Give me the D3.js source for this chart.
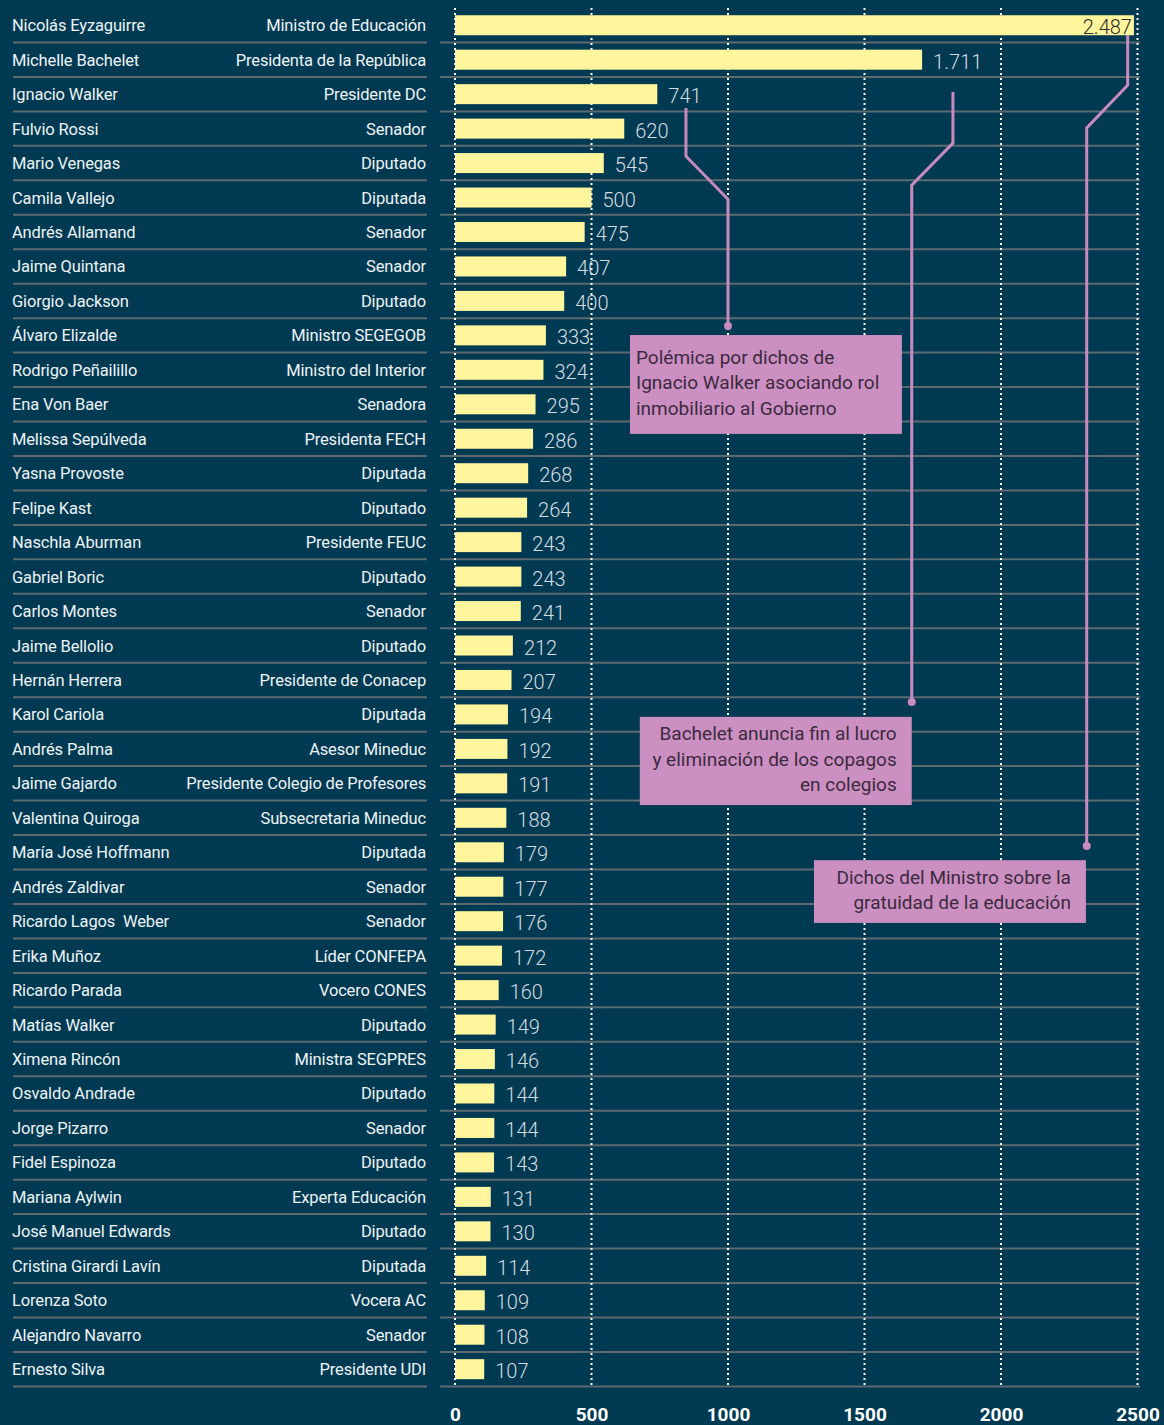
<!DOCTYPE html>
<html>
<head>
<meta charset="utf-8">
<script src="https://cdn.jsdelivr.net/npm/d3@7"></script>
<style>
  body { margin: 0; background: #003a52; }
  svg { display: block; }
  text { white-space: pre; }
</style>
</head>
<body>
<div id="chart"></div>
<script>
var names = ["Nicolás Eyzaguirre", "Michelle Bachelet", "Ignacio Walker", "Fulvio Rossi", "Mario Venegas",
  "Camila Vallejo", "Andrés Allamand", "Jaime Quintana", "Giorgio Jackson", "Álvaro Elizalde",
  "Rodrigo Peñailillo", "Ena Von Baer", "Melissa Sepúlveda", "Yasna Provoste", "Felipe Kast",
  "Naschla Aburman", "Gabriel Boric", "Carlos Montes", "Jaime Bellolio", "Hernán Herrera",
  "Karol Cariola", "Andrés Palma", "Jaime Gajardo", "Valentina Quiroga", "María José Hoffmann",
  "Andrés Zaldivar", "Ricardo Lagos  Weber", "Erika Muñoz", "Ricardo Parada", "Matías Walker",
  "Ximena Rincón", "Osvaldo Andrade", "Jorge Pizarro", "Fidel Espinoza", "Mariana Aylwin",
  "José Manuel Edwards", "Cristina Girardi Lavín", "Lorenza Soto", "Alejandro Navarro", "Ernesto Silva"];

var roles = ["Ministro de Educación", "Presidenta de la República", "Presidente DC", "Senador", "Diputado",
  "Diputada", "Senador", "Senador", "Diputado", "Ministro SEGEGOB",
  "Ministro del Interior", "Senadora", "Presidenta FECH", "Diputada", "Diputado",
  "Presidente FEUC", "Diputado", "Senador", "Diputado", "Presidente de Conacep",
  "Diputada", "Asesor Mineduc", "Presidente Colegio de Profesores", "Subsecretaria Mineduc", "Diputada",
  "Senador", "Senador", "Líder CONFEPA", "Vocero CONES", "Diputado",
  "Ministra SEGPRES", "Diputado", "Senador", "Diputado", "Experta Educación",
  "Diputado", "Diputada", "Vocera AC", "Senador", "Presidente UDI"];

var values = [2487, 1711, 741, 620, 545, 500, 475, 407, 400, 333,
  324, 295, 286, 268, 264, 243, 243, 241, 212, 207,
  194, 192, 191, 188, 179, 177, 176, 172, 160, 149,
  146, 144, 144, 143, 131, 130, 114, 109, 108, 107];

var xTicks = [0, 500, 1000, 1500, 2000, 2500];

// annotation paths: [value, row] points; boxes in value/row units
var annoPaths = [
  [[846, 2.40], [846, 3.80], [1000, 5.05], [1000, 8.73]],
  [[1824, 1.94], [1824, 3.42], [1673, 4.64], [1673, 19.64]],
  [[2464, 0.28], [2464, 1.74], [2314, 2.98], [2314, 23.82]]
];
var annoBoxes = [
  {x0: 641, x1: 1637, r0: 8.99, r1: 11.86, align: "start", lines: ["Polémica por dichos de", "Ignacio Walker asociando rol", "inmobiliario al Gobierno"]},
  {x0: 677, x1: 1673, r0: 20.07, r1: 22.63, align: "end", lines: ["Bachelet anuncia fin al lucro", "y eliminación de los copagos", "en colegios"]},
  {x0: 1315, x1: 2311, r0: 24.23, r1: 26.05, align: "end", lines: ["Dichos del Ministro sobre la", "gratuidad de la educación"]}
];

var width = 1164, height = 1425;
var font = "Roboto, 'Open Sans', sans-serif";

var svg = d3.select("#chart").append("svg")
  .attr("width", width)
  .attr("height", height)
  .style("background", "#003a52");

var x = d3.scaleLinear().domain([0, 2500]).range([455, 1137.5]);
var y = d3.scaleBand().domain(d3.range(names.length)).range([8, 1386.4]).paddingInner(0).paddingOuter(0);
var rowC = function(r) { return y(0) + y.bandwidth() / 2 + r * y.step(); };

var fmt = d3.formatLocale({decimal: ",", thousands: ".", grouping: [3], currency: ["$", ""]}).format(",d");

// row separators
var seps = svg.append("g");
seps.selectAll("line.l")
  .data(d3.range(names.length))
  .enter().append("line")
  .attr("x1", 13).attr("x2", 427)
  .attr("y1", function(d) { return y(d) + y.bandwidth(); })
  .attr("y2", function(d) { return y(d) + y.bandwidth(); })
  .attr("stroke", "#5d6a70").attr("stroke-width", 2);
seps.selectAll("line.r")
  .data(d3.range(names.length))
  .enter().append("line")
  .attr("x1", 440).attr("x2", 1140)
  .attr("y1", function(d) { return y(d) + y.bandwidth(); })
  .attr("y2", function(d) { return y(d) + y.bandwidth(); })
  .attr("stroke", "#5d6a70").attr("stroke-width", 2);

// grid
svg.append("g").selectAll("line")
  .data(xTicks)
  .enter().append("line")
  .attr("x1", function(d) { return x(d); })
  .attr("x2", function(d) { return x(d); })
  .attr("y1", 8).attr("y2", 1388)
  .attr("stroke", "#ffffff").attr("stroke-width", 2)
  .attr("stroke-dasharray", "2,3");

// bars
svg.append("g").selectAll("rect")
  .data(values)
  .enter().append("rect")
  .attr("x", x(0))
  .attr("y", function(d, i) { return rowC(i) - 10; })
  .attr("width", function(d) { return x(d) - x(0); })
  .attr("height", 20)
  .attr("fill", "#fff59c");

// zero line on top
svg.append("line")
  .attr("x1", x(0)).attr("x2", x(0))
  .attr("y1", 8).attr("y2", 1388)
  .attr("stroke", "#ffffff").attr("stroke-width", 2)
  .attr("stroke-dasharray", "2,3");

// value labels
svg.append("g").selectAll("text")
  .data(values)
  .enter().append("text")
  .attr("x", function(d) { return d > 2300 ? x(d) - 2 : x(d) + 11; })
  .attr("y", function(d, i) { return rowC(i) + 9; })
  .attr("text-anchor", function(d) { return d > 2300 ? "end" : "start"; })
  .attr("font-family", font)
  .attr("font-weight", 300)
  .attr("font-size", 20)
  .attr("fill", function(d) { return d > 2300 ? "#2b2b2b" : "#d5dde1"; })
  .text(function(d) { return fmt(d); });

// names and roles
var lab = svg.append("g")
  .attr("font-family", font)
  .attr("font-size", 16.5)
  .attr("fill", "#eef3f5");
lab.selectAll("text.n")
  .data(names)
  .enter().append("text")
  .attr("x", 12)
  .attr("y", function(d, i) { return rowC(i) + 6; })
  .attr("letter-spacing", -0.15)
  .text(function(d) { return d; });
lab.selectAll("text.r")
  .data(roles)
  .enter().append("text")
  .attr("x", 426)
  .attr("y", function(d, i) { return rowC(i) + 6; })
  .attr("text-anchor", "end")
  .attr("letter-spacing", -0.15)
  .text(function(d) { return d; });

// axis labels
var axis = svg.append("g")
  .attr("transform", "translate(0,1404)")
  .call(d3.axisBottom(x).tickValues(xTicks).tickSize(0).tickPadding(0).tickFormat(d3.format("d")));
axis.select(".domain").remove();
axis.selectAll("text")
  .attr("font-family", font)
  .attr("font-weight", 700)
  .attr("font-size", 19)
  .attr("fill", "#ffffff")
  .attr("dy", "0.9em");

// annotations
var line = d3.line()
  .x(function(d) { return x(d[0]); })
  .y(function(d) { return rowC(d[1]); });
var ann = svg.append("g");
ann.selectAll("path")
  .data(annoPaths)
  .enter().append("path")
  .attr("d", line)
  .attr("fill", "none")
  .attr("stroke", "#c98bbf")
  .attr("stroke-width", 3);
ann.selectAll("circle")
  .data(annoPaths)
  .enter().append("circle")
  .attr("cx", function(d) { return x(d[d.length - 1][0]); })
  .attr("cy", function(d) { return rowC(d[d.length - 1][1]); })
  .attr("r", 4)
  .attr("fill", "#c98bbf");

var boxes = ann.selectAll("g.box")
  .data(annoBoxes)
  .enter().append("g");
boxes.append("rect")
  .attr("x", function(d) { return x(d.x0); })
  .attr("y", function(d) { return rowC(d.r0); })
  .attr("width", function(d) { return x(d.x1) - x(d.x0); })
  .attr("height", function(d) { return rowC(d.r1) - rowC(d.r0); })
  .attr("fill", "#cc8fc2");
boxes.each(function(b) {
  var mid = (rowC(b.r0) + rowC(b.r1)) / 2;
  var n = b.lines.length;
  d3.select(this).selectAll("text")
    .data(b.lines)
    .enter().append("text")
    .attr("x", b.align === "start" ? x(b.x0) + 6 : x(b.x1) - 15)
    .attr("y", function(d, i) { return mid - 2 + (i - (n - 1) / 2) * 25.5 + 7; })
    .attr("text-anchor", b.align)
    .attr("font-family", font)
    .attr("font-size", 19)
    .attr("fill", "#3b2a3d")
    .text(function(d) { return d; });
});
</script>
</body>
</html>
